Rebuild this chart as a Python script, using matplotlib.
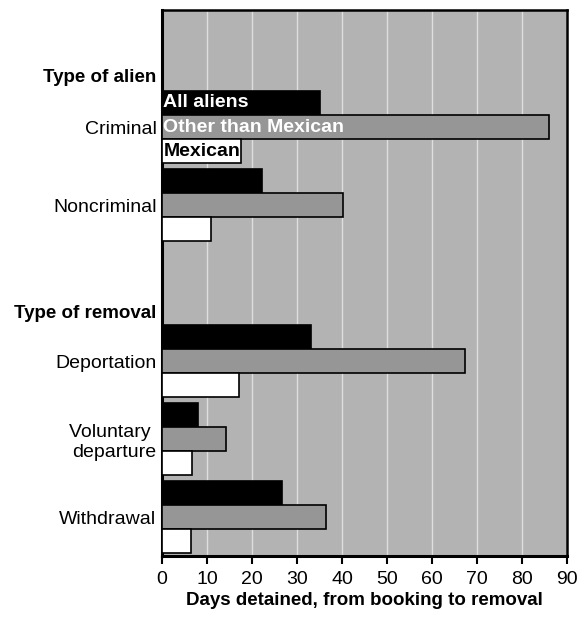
import matplotlib.pyplot as plt
import numpy as np

plt.rcParams['font.family'] = ['Liberation Sans', 'DejaVu Sans']

# --- Data (days detained, from booking to removal) ---
categories = ['Criminal', 'Noncriminal', 'Deportation', 'Voluntary \ndeparture', 'Withdrawal']
cat_pos = [1.5, 2.5, 4.5, 5.5, 6.5]
headers = ['Type of alien', 'Type of removal']
header_pos = [0.84, 3.86]

all_aliens = [35.1, 22.2, 33.1, 8.1, 26.7]
other_than_mexican = [85.9, 40.3, 67.3, 14.3, 36.5]
mexican = [17.5, 10.9, 17.1, 6.6, 6.5]

series_names = ['All aliens', 'Other than Mexican', 'Mexican']
series_colors = ['#000000', '#969696', '#ffffff']
text_colors = ['white', 'white', 'black']

fig = plt.figure(figsize=(5.86, 6.21), dpi=100)
ax = fig.add_axes([162 / 586, 1 - 556 / 621, 405 / 586, 546 / 621])
ax.set_facecolor('#b3b3b3')

h = 0.308
pos = np.array(cat_pos)
for i, vals in enumerate([all_aliens, other_than_mexican, mexican]):
    ax.barh(pos + (i - 1) * h, vals, height=h, color=series_colors[i],
            edgecolor='black', linewidth=1.2, zorder=3)
    # series names written inside the first group (acts as legend)
    ax.text(0.3, pos[0] + (i - 1) * h, series_names[i], color=text_colors[i],
            fontsize=14, fontweight='bold', va='center', ha='left', zorder=4)

ax.set_xlim(0, 90)
ax.set_ylim(7, 0)
ax.set_xticks(range(0, 91, 10))
ax.grid(axis='x', color='#dedede', linewidth=1, zorder=1)
ax.set_axisbelow(True)

ax.set_yticks(list(pos) + header_pos)
ax.set_yticklabels(categories + headers)
for lbl in ax.get_yticklabels():
    lbl.set_fontsize(14)
    lbl.set_multialignment('right')
    if lbl.get_text() in headers:
        lbl.set_fontweight('bold')
        lbl.set_fontsize(13.5)
ax.tick_params(axis='y', length=0, pad=4)
ax.tick_params(axis='x', length=6, width=1.5, labelsize=14, pad=5, direction='out')

for side in ['left', 'bottom']:
    ax.spines[side].set_linewidth(2.2)
for side in ['top', 'right']:
    ax.spines[side].set_linewidth(1.8)

ax.set_xlabel('Days detained, from booking to removal', fontsize=13.5,
              fontweight='bold', labelpad=3)

fig.savefig('out.png', dpi=100)
